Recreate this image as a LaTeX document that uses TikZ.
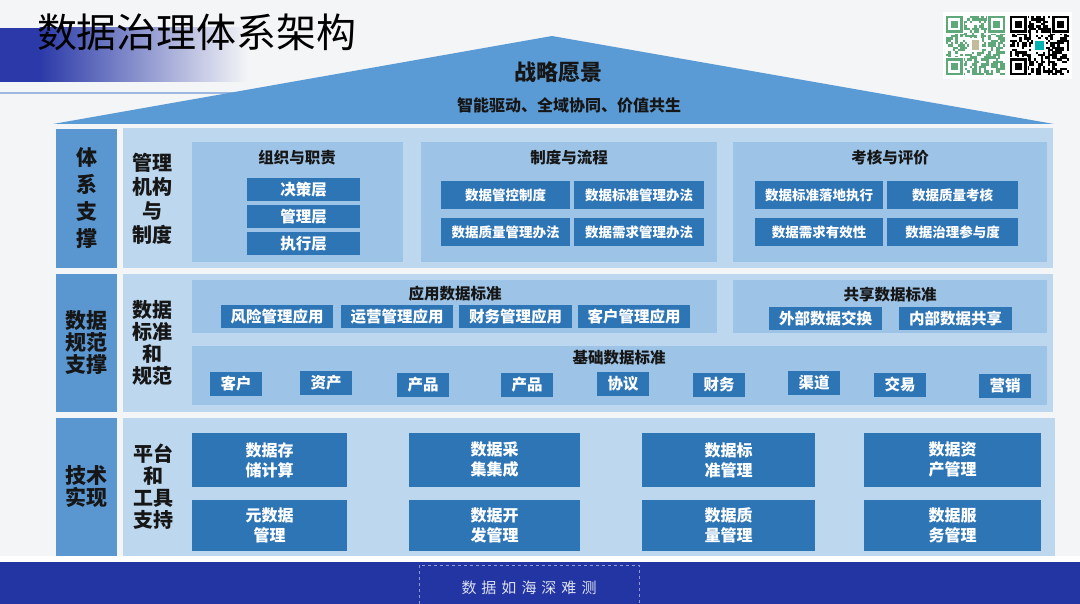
\documentclass[tikz,border=0pt]{standalone}
\usepackage{fontspec}
\setmainfont{Noto Sans CJK SC}
\definecolor{bgc}{HTML}{F4F5F7}
\definecolor{roofc}{HTML}{5B9BD5}
\definecolor{labc}{HTML}{5A96D0}
\definecolor{panelc}{HTML}{BDD7EE}
\definecolor{grpc}{HTML}{9DC3E6}
\definecolor{itmc}{HTML}{2E75B6}
\definecolor{barc}{HTML}{2335A3}
\definecolor{titleblue}{HTML}{2B3AA8}
\definecolor{txtc}{HTML}{161616}
\definecolor{qrgreen}{HTML}{5FA87A}
\definecolor{linec}{HTML}{9DB8DE}
\definecolor{dashc}{HTML}{8E9BD3}
\definecolor{slogc}{HTML}{DCE0F2}
\newcommand\fs[1]{\fontsize{#1}{#1}\selectfont}
\newcommand\bx[7]{\node[#1, minimum width={(#5)-(#3)}, minimum height={(#6)-(#4)}] (#2) at ({((#3)+(#5))/2},{((#4)+(#6))/2}) {#7};}
\newcommand\myqr[4]{%
  \pgfmathsetseed{#4}%
  \foreach \i in {0,...,24}{\foreach \j in {0,...,24}{%
    \pgfmathrandominteger{\rr}{0}{1}%
    \ifnum\rr=1 \fill[#3] ({#1+\i*2.36},{#2+\j*2.36}) rectangle ++(2.4,2.4);\fi
  }}%
  \foreach \a/\b in {0/0,18/0,0/18}{%
    \fill[white] ({#1+(\a-0.5)*2.36},{#2+(\b-0.5)*2.36}) rectangle ++(8*2.36,8*2.36);
    \fill[#3] ({#1+\a*2.36},{#2+\b*2.36}) rectangle ++(7*2.36,7*2.36);
    \fill[white] ({#1+(\a+1)*2.36},{#2+(\b+1)*2.36}) rectangle ++(5*2.36,5*2.36);
    \fill[#3] ({#1+(\a+2)*2.36},{#2+(\b+2)*2.36}) rectangle ++(3*2.36,3*2.36);
  }%
}
\tikzset{
  lab/.style={fill=labc, text=txtc, font=\bfseries\fs{21}, align=center, inner sep=0, outer sep=0},
  panel/.style={fill=panelc, inner sep=0, outer sep=0},
  sublab/.style={text=txtc, font=\bfseries\fs{20}, align=center, inner sep=0},
  grp/.style={fill=grpc, inner sep=0, outer sep=0},
  gtitle/.style={text=txtc, font=\bfseries\fs{15.5}, inner sep=0},
  itm/.style={fill=itmc, text=white, font=\bfseries\fs{15.5}, align=center, inner sep=0, outer sep=0},
  smitm/.style={itm, font=\bfseries\fs{13.5}},
  bigitm/.style={fill=itmc, text=white, font=\bfseries\fontsize{16}{20}\selectfont, align=center, inner sep=0, outer sep=0},
}
\begin{document}
\begin{tikzpicture}[x=1pt,y=-1pt]
\useasboundingbox (0,0) rectangle (1080,604);
\fill[bgc] (0,0) rectangle (1080,604);
% title band
\fill[titleblue] (0,28) rectangle (40,82);
\shade[left color=titleblue, right color=bgc] (39.5,28) rectangle (248,82);
\draw[linec, line width=1.2pt] (0,93) -- (255,93);
\node[text=black, font=\fs{40}, inner sep=0] (title) at (197,32) {数据治理体系架构};
% QR codes
\fill[white] (943,12) rectangle (1072,79);
\myqr{946}{16}{qrgreen}{11}
\myqr{1010}{16}{black}{23}
\fill[white] (969,38) rectangle (982,52);
\fill[qrgreen!40!brown!60] (972,40) rectangle (979,50);
\fill[white] (1033,39) rectangle (1046,52);
\fill[teal!60!cyan] (1035,41) rectangle (1044,50);
% roof
\fill[roofc] (53,124) -- (552,36) -- (1054,124) -- cycle;
\node[text=txtc, font=\bfseries\fs{22}, inner sep=0] (vision) at (558,72) {战略愿景};
\node[text=txtc, font=\bfseries\fs{16}, inner sep=0] (visionsub) at (569,105) {智能驱动、全域协同、价值共生};
% ===== row 1 =====
\bx{lab}{l1}{56}{129}{117}{268}{体\\[6pt]系\\[6pt]支\\[6pt]撑}
\bx{panel}{p1}{123}{128}{1053}{268}{}
\node[sublab] (s1) at (152,199) {管理\\[4pt]机构\\[4pt]与\\[4pt]制度};
\bx{grp}{g11}{192}{142}{403}{262}{}
\bx{grp}{g12}{421}{142}{717}{262}{}
\bx{grp}{g13}{733}{142}{1047}{262}{}
\node[gtitle] (t11) at (297,158) {组织与职责};
\node[gtitle] (t12) at (569,158) {制度与流程};
\node[gtitle] (t13) at (890,158) {考核与评价};
\bx{itm}{a1}{247}{178}{360}{201}{决策层}
\bx{itm}{a2}{247}{205}{360}{228}{管理层}
\bx{itm}{a3}{247}{232}{360}{255}{执行层}
\bx{smitm}{b1}{441}{181}{570}{209}{数据管控制度}
\bx{smitm}{b2}{574}{181}{704}{209}{数据标准管理办法}
\bx{smitm}{b3}{441}{218}{570}{246}{数据质量管理办法}
\bx{smitm}{b4}{574}{218}{704}{246}{数据需求管理办法}
\bx{smitm}{c1}{755}{181}{883}{209}{数据标准落地执行}
\bx{smitm}{c2}{887}{181}{1018}{209}{数据质量考核}
\bx{smitm}{c3}{755}{218}{883}{246}{数据需求有效性}
\bx{smitm}{c4}{887}{218}{1018}{246}{数据治理参与度}
% ===== row 2 =====
\bx{lab}{l2}{56}{274}{117}{412}{数据\\[1pt]规范\\[1pt]支撑}
\bx{panel}{p2}{123}{274}{1053}{412}{}
\node[sublab] (s2) at (152,343) {数据\\[2pt]标准\\[2pt]和\\[2pt]规范};
\bx{grp}{g21}{192}{280}{717}{333}{}
\bx{grp}{g22}{733}{280}{1047}{333}{}
\bx{grp}{g23}{192}{346}{1047}{405}{}
\node[gtitle] (t21) at (455,294) {应用数据标准};
\node[gtitle] (t22) at (890,295) {共享数据标准};
\node[gtitle] (t23) at (619,358) {基础数据标准};
\bx{itm}{d1}{221}{305}{333}{328}{风险管理应用}
\bx{itm}{d2}{341}{305}{453}{328}{运营管理应用}
\bx{itm}{d3}{459}{305}{572}{328}{财务管理应用}
\bx{itm}{d4}{578}{305}{690}{328}{客户管理应用}
\bx{itm}{e1}{769}{307}{882}{330}{外部数据交换}
\bx{itm}{e2}{899}{307}{1012}{330}{内部数据共享}
\bx{itm}{f1}{210}{372}{262}{396}{客户}
\bx{itm}{f2}{300}{371}{352}{395}{资产}
\bx{itm}{f3}{397}{373}{449}{397}{产品}
\bx{itm}{f4}{501}{373}{553}{397}{产品}
\bx{itm}{f5}{597}{372}{649}{396}{协议}
\bx{itm}{f6}{693}{373}{745}{397}{财务}
\bx{itm}{f7}{788}{371}{840}{395}{渠道}
\bx{itm}{f8}{874}{373}{926}{397}{交易}
\bx{itm}{f9}{979}{374}{1031}{398}{营销}
% ===== row 3 =====
\bx{lab}{l3}{56}{418}{117}{556}{技术\\[1pt]实现}
\bx{panel}{p3}{123}{418}{1055}{556}{}
\node[sublab] (s3) at (153,487) {平台\\[2pt]和\\[2pt]工具\\[2pt]支持};
\bx{bigitm}{h1}{192}{433}{347}{487}{数据存\\储计算}
\bx{bigitm}{h2}{409}{433}{580}{487}{数据采\\集集成}
\bx{bigitm}{h3}{642}{433}{815}{487}{数据标\\准管理}
\bx{bigitm}{h4}{864}{433}{1041}{487}{数据资\\产管理}
\bx{bigitm}{k1}{192}{500}{347}{551}{元数据\\管理}
\bx{bigitm}{k2}{409}{500}{580}{551}{数据开\\发管理}
\bx{bigitm}{k3}{642}{500}{815}{551}{数据质\\量管理}
\bx{bigitm}{k4}{864}{500}{1041}{551}{数据服\\务管理}
% ===== bottom bar =====
\fill[white] (0,556) rectangle (1080,562);
\fill[barc] (0,562) rectangle (1080,604);
\coordinate (dbl) at (419,604);
\coordinate (dtl) at (419,565);
\coordinate (dtr) at (639,565);
\coordinate (dbr) at (639,604);
\draw[dashc, dashed, line width=0.6pt] (dbl) -- (dtl) -- (dtr) -- (dbr);
\node[text=slogc, font=\fs{15}, inner sep=0] (slogan) at (529,588) {数\hspace{5pt}据\hspace{5pt}如\hspace{5pt}海\hspace{5pt}深\hspace{5pt}难\hspace{5pt}测};
\end{tikzpicture}
\end{document}
